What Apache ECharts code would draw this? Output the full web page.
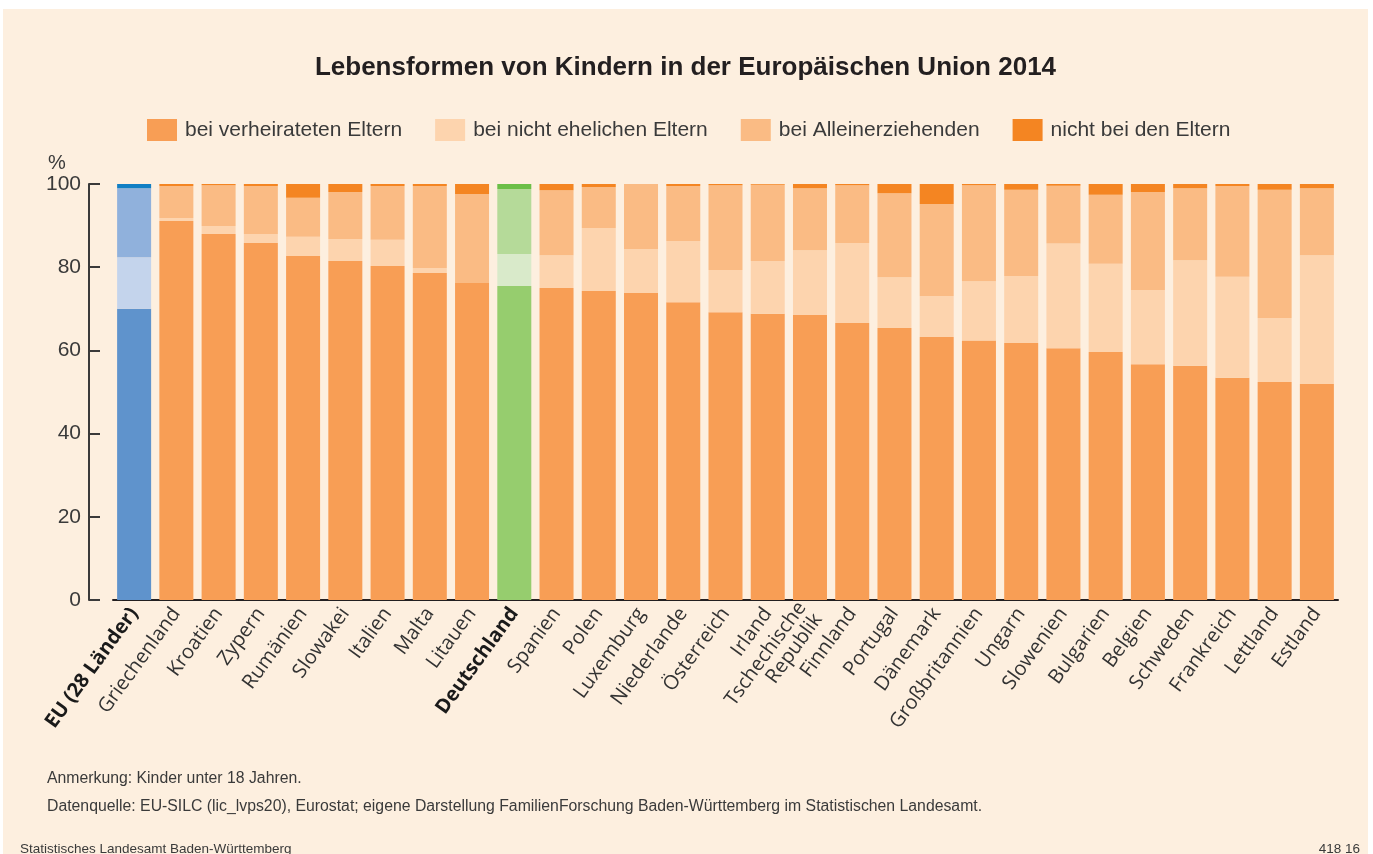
<!DOCTYPE html>
<html>
<head>
<meta charset="utf-8">
<script src="https://cdn.jsdelivr.net/npm/echarts@6/dist/echarts.min.js"></script>
<style>
  html, body { margin: 0; padding: 0; background: #ffffff; }
  #chart { position: absolute; left: 3px; top: 9px; width: 1365px; height: 845px; background: #fdefdf; }
</style>
</head>
<body>
<div id="chart"></div>
<script>
const categories = ['EU (28 Länder)', 'Griechenland', 'Kroatien', 'Zypern', 'Rumänien', 'Slowakei', 'Italien', 'Malta', 'Litauen', 'Deutschland', 'Spanien', 'Polen', 'Luxemburg', 'Niederlande', 'Österreich', 'Irland', 'Tschechische\nRepublik', 'Finnland', 'Portugal', 'Dänemark', 'Großbritannien', 'Ungarn', 'Slowenien', 'Bulgarien', 'Belgien', 'Schweden', 'Frankreich', 'Lettland', 'Estland']

const verheiratet = [70.0, 91.1, 88.0, 85.8, 82.7, 81.5, 80.3, 78.6, 76.2, 75.5, 75.0, 74.3, 73.8, 71.6, 69.2, 68.8, 68.5, 66.6, 65.4, 63.2, 62.4, 61.8, 60.5, 59.6, 56.7, 56.3, 53.4, 52.4, 51.9]
const nichtEhelich = [12.4, 0.7, 1.9, 2.2, 4.6, 5.3, 6.3, 1.2, 0.0, 7.7, 7.9, 15.1, 10.6, 14.7, 10.1, 12.7, 15.6, 19.2, 12.2, 9.9, 14.2, 16.1, 25.2, 21.2, 17.8, 25.4, 24.3, 15.4, 31.0]
const alleinerziehend = [16.6, 7.7, 9.8, 11.5, 9.4, 11.3, 12.9, 19.7, 21.4, 15.6, 15.6, 9.9, 15.6, 13.2, 20.4, 18.3, 14.9, 13.9, 20.2, 22.1, 23.1, 20.7, 13.9, 16.6, 23.6, 17.3, 21.8, 30.8, 16.1]
const nichtBeiEltern = [1.0, 0.5, 0.3, 0.5, 3.4, 2.0, 0.5, 0.5, 2.4, 1.2, 1.5, 0.7, 0.0, 0.5, 0.3, 0.2, 1.0, 0.3, 2.2, 4.8, 0.3, 1.4, 0.4, 2.6, 1.9, 1.0, 0.5, 1.4, 1.0]

const yTicks = [0, 20, 40, 60, 80, 100]
const boldCategories = ['EU (28 Länder)', 'Deutschland']

// colours per stack: default orange, EU blue, Germany green
const palette = {
  verh: { base: '#f89e55', eu: '#5f93cc', de: '#96cd6e' },
  neh: { base: '#fdd4ae', eu: '#c4d4ec', de: '#d9eaca' },
  allein: { base: '#fabb84', eu: '#90b1dc', de: '#b5da99' },
  nb: { base: '#f48522', eu: '#117fc4', de: '#6cbf48' },
}

function paint(values, key) {
  return values.map((v, i) => {
    const c = categories[i]
    if (c === 'EU (28 Länder)') return { value: v, itemStyle: { color: palette[key].eu } }
    if (c === 'Deutschland') return { value: v, itemStyle: { color: palette[key].de } }
    return v
  })
}

function barSeries(name, values, key) {
  return {
    name,
    type: 'bar',
    stack: 'total',
    barCategoryGap: '19.5%',
    itemStyle: { color: palette[key].base },
    emphasis: { disabled: true },
    data: paint(values, key),
  }
}

const textFont = '"Liberation Sans", Arial, sans-serif'
const labelFont = '"Open Sans", sans-serif'
const chart = echarts.init(document.getElementById('chart'))

chart.setOption({
  backgroundColor: '#fdefdf',
  animation: false,
  textStyle: { fontFamily: textFont },
  title: [
    {
      text: 'Lebensformen von Kindern in der Europäischen Union 2014',
      left: 'center',
      top: 41,
      textStyle: { fontSize: 26, fontWeight: 'bold', color: '#231f20', fontFamily: textFont },
    },
    { text: '%', left: 40, top: 139, textStyle: { fontSize: 20, fontWeight: 'normal', color: '#3a3a3a' } },
    { text: 'Anmerkung: Kinder unter 18 Jahren.', left: 39, top: 757, textStyle: { fontSize: 15.8, fontWeight: 'normal', color: '#3a3a3a' } },
    {
      text: 'Datenquelle: EU-SILC (lic_lvps20), Eurostat; eigene Darstellung FamilienForschung Baden-Württemberg im Statistischen Landesamt.',
      left: 39, top: 785,
      textStyle: { fontSize: 15.8, fontWeight: 'normal', color: '#3a3a3a' },
    },
    { text: 'Statistisches Landesamt Baden-Württemberg', left: 12, top: 828, textStyle: { fontSize: 13.5, fontWeight: 'normal', color: '#3a3a3a' } },
    { text: '418 16', right: 3, top: 828, textStyle: { fontSize: 13.5, fontWeight: 'normal', color: '#3a3a3a' } },
  ],
  legend: {
    left: 144,
    top: 110,
    padding: 0,
    icon: 'rect',
    itemWidth: 30,
    itemHeight: 22,
    itemGap: 33,
    selectedMode: false,
    textStyle: { fontSize: 21, color: '#3a3a3a', padding: [0, 0, 0, 3] },
  },
  grid: { left: 110, right: 30, top: 175, bottom: 254, containLabel: false },
  xAxis: {
    type: 'category',
    data: categories,
    axisLine: { lineStyle: { color: '#231f20', width: 2 } },
    axisTick: { show: false },
    axisLabel: {
      interval: 0,
      rotate: 54,
      margin: 10,
      fontFamily: labelFont,
      fontSize: 20,
      color: '#333333',
      lineHeight: 20,
      formatter: (v) => (boldCategories.includes(v) ? '{b|' + v + '}' : v),
      rich: { b: { fontWeight: 'bold', fontSize: 20, fontFamily: labelFont, color: '#1a1a1a' } },
    },
  },
  yAxis: {
    type: 'value',
    min: yTicks[0],
    max: yTicks[yTicks.length - 1],
    interval: 20,
    offset: 24,
    axisLine: { show: true, lineStyle: { color: '#3a3a3a', width: 2 } },
    axisTick: { show: true, inside: true, length: 11, lineStyle: { color: '#3a3a3a', width: 2 } },
    splitLine: { show: false },
    axisLabel: { fontSize: 21, color: '#3a3a3a', margin: 8 },
  },
  series: [
    barSeries('bei verheirateten Eltern', verheiratet, 'verh'),
    barSeries('bei nicht ehelichen Eltern', nichtEhelich, 'neh'),
    barSeries('bei Alleinerziehenden', alleinerziehend, 'allein'),
    barSeries('nicht bei den Eltern', nichtBeiEltern, 'nb'),
  ],
})
</script>
</body>
</html>
